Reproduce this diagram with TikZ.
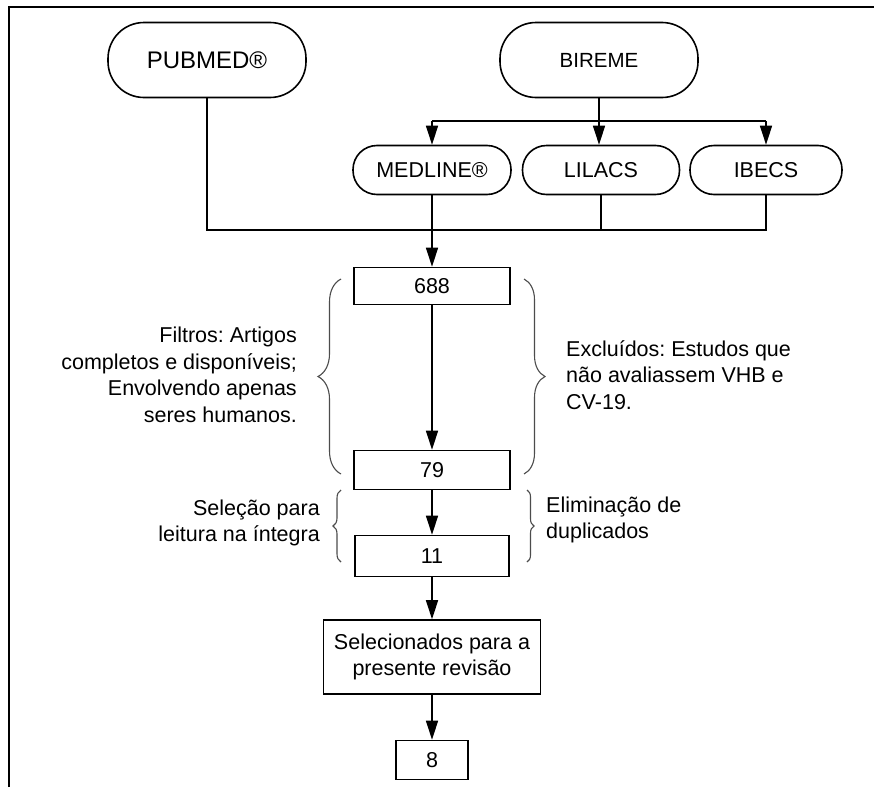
\documentclass[tikz,border=0pt]{standalone}
\usepackage{fontspec}
\setmainfont{Liberation Sans}
\usetikzlibrary{arrows.meta,decorations.pathreplacing}
\frenchspacing

\tikzset{
  box/.style={draw, line width=1.6pt, fill=white, inner sep=0pt, align=center, font=\fontsize{21.5}{26.5}\selectfont},
  source/.style={box, rounded corners=#1},
  link/.style={line width=1.6pt},
  arr/.style={line width=1.6pt, -{Triangle[length=19pt,width=12pt]}},
  brc/.style={draw=black!70, line width=1.1pt, decorate, decoration={brace, amplitude=#1}},
  note/.style={inner sep=0pt, font=\fontsize{21.5}{26.5}\selectfont}
}

\begin{document}
\begin{tikzpicture}[x=1pt, y=-1pt]
  \useasboundingbox (0,0) rectangle (874,787);
  \fill[white] (0,0) rectangle (874,787);
  \draw[line width=2.2pt] (9,787) -- (9,7) -- (874,7);

  \node[source=36pt, minimum width=198pt, minimum height=75pt, font=\fontsize{24}{28}\selectfont] (pubmed) at (207,60) {PUBMED®};
  \node[source=36pt, minimum width=198pt, minimum height=75pt, font=\fontsize{20.5}{25}\selectfont] (bireme) at (599,60) {BIREME};
  \node[source=24pt, minimum width=158pt, minimum height=49pt] (medline) at (432,170) {MEDLINE®};
  \node[source=24pt, minimum width=157pt, minimum height=49pt] (lilacs) at (601,170) {LILACS};
  \node[source=24pt, minimum width=152pt, minimum height=49pt] (ibecs) at (766,170) {IBECS};

  \node[box, minimum width=156pt, minimum height=37pt] (n688) at (432,286) {688};
  \node[box, minimum width=156pt, minimum height=39pt] (n79) at (432,470) {79};
  \node[box, minimum width=154pt, minimum height=41pt] (n11) at (432,556) {11};
  \node[box, minimum width=217pt, minimum height=74pt] (sel) at (432,657) {Selecionados para a\\presente revisão};
  \node[box, minimum width=72pt, minimum height=39pt] (n8) at (432,760) {8};

  \coordinate (split) at (599,121);
  \coordinate (join) at (432,230);
  \draw[link] (bireme) -- (split);
  \draw[link] (split -| medline) -- (split -| ibecs);
  \draw[arr] (split -| medline) -- (medline);
  \draw[arr] (split) -- (split |- lilacs.north);
  \draw[arr] (split -| ibecs) -- (ibecs);
  \draw[link] (pubmed) -- (pubmed |- join) -- (join -| ibecs) -- (ibecs);
  \draw[link] (lilacs) -- (lilacs |- join);
  \draw[arr] (medline) -- (n688);
  \draw[arr] (n688) -- (n79);
  \draw[arr] (n79) -- (n11);
  \draw[arr] (n11) -- (sel);
  \draw[arr] (sel) -- (n8);

  \draw[brc=23pt] (341,474) -- (341,279);
  \draw[brc=21pt] (524,279) -- (524,474);
  \draw[brc=8pt] (341,562) -- (341,490);
  \draw[brc=7pt] (527,490) -- (527,562);

  \node[note, align=right, anchor=east] (filtros) at (297,375) {Filtros: Artigos\\completos e disponíveis;\\Envolvendo apenas\\seres humanos.};
  \node[note, align=left, anchor=west] (excl) at (566,375) {Excluídos: Estudos que\\não avaliassem VHB e\\CV-19.};
  \node[note, align=right, anchor=east] (selec) at (320,523) {Seleção para\\leitura na íntegra};
  \node[note, align=left, anchor=west] (elim) at (546,520) {Eliminação de\\duplicados};
\end{tikzpicture}
\end{document}
